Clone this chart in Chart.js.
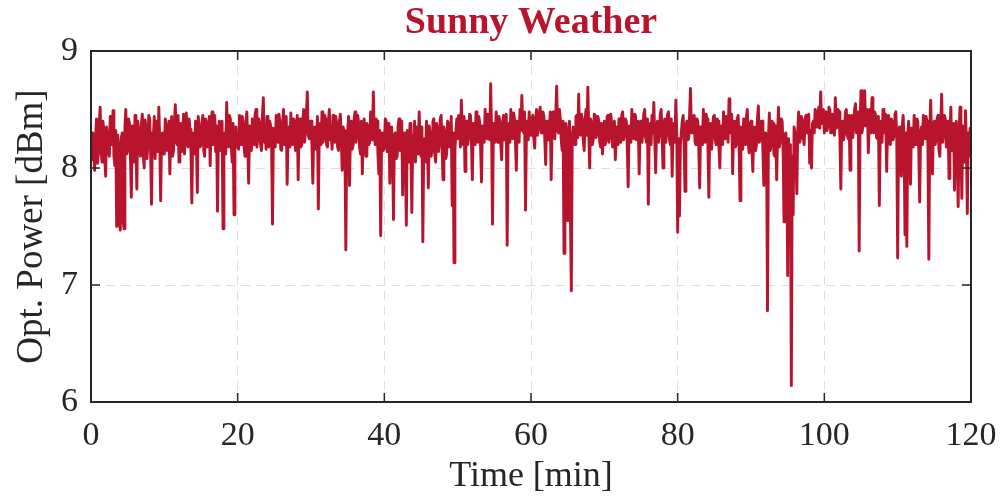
<!DOCTYPE html>
<html>
<head>
<meta charset="utf-8">
<script src="https://cdn.jsdelivr.net/npm/chart.js@4.4.1/dist/chart.umd.min.js"></script>
<style>
  html, body { margin: 0; padding: 0; background: #fff; }
  #wrap { width: 1005px; height: 502px; }
</style>
</head>
<body>
<div id="wrap"><canvas id="chart" width="1005" height="502"></canvas></div>
<script>
// Puissance optique relevée sur 120 min, un point toutes les 0.125 min (une ligne = 5 min)
const sampleStep = 0.125;
const power = [
  8.07,8.18, 8.30,8.12, 7.98,8.26, 8.42,8.04, 8.12,8.38, 8.52,8.15, 8.05,8.40, 8.33,8.08, 7.93,8.35, 8.28,8.14, 8.10,8.44, 8.36,8.20, 8.49,8.10, 8.02,8.32, 7.50,8.28, 8.20,7.52, 7.47,8.25, 8.30,7.55, 7.48,8.35, 8.50,8.12,
  8.15,8.42, 8.38,8.10, 7.75,8.36, 8.27,8.05, 8.45,8.20, 7.82,8.40, 8.32,8.15, 8.10,8.38, 8.46,8.12, 8.00,8.41, 8.34,8.08, 8.18,8.45, 8.42,8.16, 7.69,8.30, 8.25,8.44, 8.08,8.36, 8.40,8.14, 8.52,8.22, 7.72,8.28, 8.30,8.12,
  8.12,8.42, 8.36,8.15, 8.22,8.40, 7.95,8.30, 8.44,8.10, 8.15,8.38, 8.54,8.22, 8.20,8.45, 8.05,8.32, 8.38,8.14, 8.26,8.46, 8.12,8.35, 8.47,8.20, 8.18,8.42, 8.33,8.16, 7.70,8.30, 8.28,8.12, 8.40,8.22, 7.79,8.44, 8.35,8.18,
  8.20,8.38, 8.45,8.15, 8.10,8.42, 8.38,8.18, 8.25,8.44, 8.02,8.35, 8.48,8.20, 8.30,8.45, 8.14,8.36, 7.63,8.28, 8.40,8.15, 8.22,8.40, 7.48,8.26, 8.30,8.12, 8.56,8.28, 8.18,8.45, 8.42,8.20, 8.05,8.38, 7.60,8.30, 8.35,8.18,
  8.28,8.16, 8.45,8.22, 8.20,8.44, 8.37,8.18, 8.10,8.40, 8.48,8.22, 7.87,8.36, 8.32,8.15, 8.42,8.25, 8.20,8.46, 8.50,8.18, 8.26,8.42, 8.38,8.20, 8.15,8.44, 8.60,8.22, 8.30,8.16, 8.44,8.28, 8.18,8.40, 8.36,8.20, 7.52,8.34,
  8.30,8.18, 8.45,8.24, 8.22,8.46, 8.40,8.16, 8.15,8.38, 8.50,8.20, 8.28,8.44, 7.86,8.30, 8.35,8.18, 8.47,8.26, 8.20,8.42, 8.40,8.15, 8.30,8.45, 7.90,8.34, 8.42,8.18, 8.20,8.40, 8.50,8.22, 8.32,8.46, 8.65,8.28, 8.25,8.40,
  8.40,8.20, 7.87,8.32, 8.35,8.16, 8.20,8.44, 7.65,8.30, 8.38,8.20, 8.48,8.22, 8.25,8.45, 8.42,8.20, 8.18,8.40, 8.50,8.24, 8.30,8.16, 8.45,8.28, 8.22,8.44, 8.38,8.18, 8.15,8.40, 8.46,8.26, 7.98,8.35, 8.32,8.18, 7.30,8.28,
  8.30,8.44, 7.85,8.28, 8.40,8.16, 8.20,8.42, 8.48,8.22, 8.28,8.45, 8.38,8.18, 8.12,8.40, 7.95,8.26, 8.42,8.15, 8.10,8.38, 8.35,8.20, 8.22,8.48, 8.45,8.24, 8.65,8.30, 8.20,8.42, 8.40,8.12, 7.95,8.32, 7.42,8.25, 8.30,8.15,
  8.18,8.42, 8.40,8.14, 8.25,8.38, 7.87,8.30, 8.35,8.12, 7.56,8.28, 8.30,8.08, 8.10,8.36, 8.42,8.15, 8.20,8.40, 7.77,8.24, 8.30,8.10, 7.51,8.32, 8.25,8.05, 8.38,8.16, 7.62,8.28, 8.20,8.40, 8.05,8.30, 8.35,8.12, 8.48,8.20,
  8.10,8.35, 7.37,8.20, 8.25,8.05, 8.40,8.18, 7.83,8.36, 8.30,8.10, 8.15,8.40, 8.42,8.12, 8.05,8.38, 8.33,8.14, 8.20,8.42, 8.45,8.16, 7.90,8.35, 8.30,8.08, 8.12,8.40, 8.38,8.18, 8.22,8.44, 7.68,8.30, 7.19,8.15, 8.30,8.42,
  8.25,8.45, 8.42,8.18, 8.58,8.30, 8.20,8.44, 7.97,8.32, 8.40,8.20, 8.28,8.46, 8.45,8.22, 7.90,8.38, 8.35,8.20, 8.48,8.26, 8.22,8.44, 8.40,8.18, 7.88,8.36, 8.30,8.22, 8.50,8.28, 8.25,8.46, 8.44,8.24, 8.72,8.30, 7.52,8.38,
  8.35,8.22, 8.48,8.28, 8.22,8.44, 8.40,8.20, 8.07,8.38, 8.45,8.24, 8.30,8.46, 7.34,8.32, 8.38,8.22, 8.50,8.30, 8.25,8.47, 8.42,8.24, 7.98,8.40, 8.36,8.22, 8.50,8.32, 8.62,8.35, 8.30,8.48, 7.64,8.30, 8.40,8.24, 8.48,8.30,
  8.28,8.42, 8.45,8.26, 8.17,8.40, 8.50,8.28, 8.35,8.46, 8.52,8.30, 8.30,8.48, 8.45,8.26, 8.03,8.40, 8.40,8.24, 8.32,8.48, 7.90,8.34, 8.48,8.28, 8.25,8.46, 8.70,8.32, 8.30,8.50, 8.42,8.24, 8.15,8.40, 7.27,8.30, 8.38,8.22,
  7.55,8.30, 8.40,7.60, 6.95,8.28, 8.35,8.22, 8.20,8.44, 8.45,8.26, 8.63,8.30, 8.28,8.46, 8.42,8.24, 8.15,8.40, 8.50,8.28, 8.69,8.32, 8.00,8.42, 8.38,8.20, 8.25,8.46, 8.45,8.26, 8.30,8.44, 8.40,8.22, 8.18,8.38, 8.12,8.30,
  8.40,8.20, 8.25,8.44, 8.45,8.22, 8.30,8.46, 8.38,8.18, 8.20,8.40, 8.07,8.30, 8.35,8.20, 8.42,8.28, 8.22,8.45, 8.48,8.24, 8.30,8.42, 8.40,8.20, 7.84,8.36, 8.32,8.22, 8.50,8.28, 8.25,8.46, 8.45,8.24, 8.30,8.40, 7.95,8.35,
  8.40,8.22, 8.30,8.46, 8.50,8.26, 8.22,8.42, 7.69,8.30, 8.38,8.20, 8.45,8.30, 8.56,8.24, 7.96,8.35, 8.40,8.22, 8.28,8.46, 8.50,8.28, 8.00,8.38, 8.42,8.22, 8.30,8.46, 8.48,8.25, 8.20,8.42, 7.93,8.34, 8.38,8.22, 8.58,8.30,
  7.45,8.25, 7.59,8.20, 8.30,8.40, 8.45,8.22, 7.80,8.36, 8.40,8.24, 8.25,8.46, 8.68,8.30, 8.30,8.44, 8.45,8.22, 8.20,8.42, 8.40,8.18, 7.83,8.35, 8.35,8.20, 8.50,8.30, 8.22,8.46, 8.42,8.20, 7.75,8.32, 8.38,8.16, 8.30,8.44,
  8.45,8.24, 8.20,8.42, 8.40,8.18, 8.00,8.36, 8.35,8.20, 8.48,8.26, 8.25,8.44, 8.42,8.22, 8.59,8.30, 8.30,8.46, 7.95,8.34, 8.40,8.18, 8.20,8.42, 8.45,8.20, 7.72,8.35, 8.30,8.16, 8.42,8.28, 8.20,8.44, 8.50,8.22, 8.13,8.38,
  8.40,8.18, 7.97,8.32, 8.35,8.15, 8.20,8.42, 8.53,8.22, 8.25,8.40, 8.40,8.14, 7.85,8.30, 8.30,8.18, 6.78,8.25, 8.47,8.15, 8.20,8.40, 8.38,8.12, 8.10,8.36, 7.90,8.28, 8.52,8.18, 8.25,8.42, 8.40,8.16, 7.54,8.28, 8.30,8.10,
  7.08,8.25, 7.50,8.20, 6.14,8.10, 7.60,8.35, 8.30,8.15, 7.78,8.32, 8.48,8.22, 8.25,8.44, 8.40,8.26, 8.20,8.42, 8.45,8.30, 8.30,8.46, 8.04,8.32, 8.00,8.38, 8.40,8.30, 8.50,8.36, 8.35,8.48, 8.52,8.34, 8.65,8.38, 8.40,8.50,
  8.30,8.46, 8.48,8.32, 8.38,8.52, 8.50,8.30, 8.30,8.46, 8.45,8.28, 8.60,8.34, 8.35,8.50, 8.48,8.26, 7.82,8.38, 8.40,8.24, 8.30,8.48, 8.50,8.28, 8.25,8.45, 7.98,8.36, 8.45,8.26, 8.35,8.50, 8.55,8.30, 8.30,8.48, 7.29,8.40,
  8.66,8.30, 8.35,8.52, 8.66,8.36, 8.40,8.50, 8.13,8.40, 8.50,8.30, 8.60,8.38, 8.30,8.48, 8.45,8.26, 8.25,8.44, 7.68,8.32, 8.40,8.22, 8.50,8.30, 8.30,8.46, 7.97,8.34, 8.45,8.22, 8.20,8.42, 8.40,8.24, 8.28,8.46, 8.48,8.26,
  7.23,8.30, 8.35,8.18, 7.93,8.36, 8.45,8.22, 7.43,8.30, 7.33,8.28, 8.40,8.20, 7.86,8.34, 8.30,8.18, 8.45,8.24, 8.20,8.42, 8.40,8.16, 7.71,8.30, 8.35,8.20, 8.45,8.26, 8.25,8.44, 8.40,8.20, 7.22,8.32, 8.58,8.24, 7.95,8.38,
  8.40,8.20, 8.25,8.42, 8.45,8.16, 8.10,8.38, 8.63,8.22, 8.30,8.45, 8.42,8.18, 8.20,8.40, 7.91,8.30, 8.52,8.15, 8.15,8.38, 7.81,8.28, 8.40,8.12, 7.67,8.30, 8.52,8.20, 7.74,8.36, 8.30,8.05, 8.49,8.22, 7.61,8.30, 8.10,8.34,
  8.25
];
const times = power.map((_, i) => i * sampleStep);

const xTicks = [0, 20, 40, 60, 80, 100, 120];
const yTicks = [6, 7, 8, 9];

const rouge = '#B8142D';
const encre = '#262626';
const police = '"Liberation Serif", "DejaVu Serif", serif';

// Cadre et graduations vers l'intérieur (style MATLAB)
const cadre = {
    id: 'cadre',
    afterDraw(chart) {
        const ctx = chart.ctx;
        const a = chart.chartArea;
        const sx = chart.scales.x;
        const sy = chart.scales.y;
        const len = 9;
        ctx.save();
        ctx.setLineDash([]);
        ctx.strokeStyle = encre;
        ctx.lineWidth = 1.5;
        ctx.beginPath();
        xTicks.forEach(v => {
            const px = sx.getPixelForValue(v);
            ctx.moveTo(px, a.bottom); ctx.lineTo(px, a.bottom - len);
            ctx.moveTo(px, a.top); ctx.lineTo(px, a.top + len);
        });
        yTicks.forEach(v => {
            const py = sy.getPixelForValue(v);
            ctx.moveTo(a.left, py); ctx.lineTo(a.left + len, py);
            ctx.moveTo(a.right, py); ctx.lineTo(a.right - len, py);
        });
        ctx.stroke();
        ctx.lineWidth = 2;
        ctx.strokeRect(a.left, a.top, a.right - a.left, a.bottom - a.top);
        ctx.restore();
    }
};

const ctx = document.getElementById('chart').getContext('2d');
const chart = new Chart(ctx, {
    type: 'line',
    data: {
        datasets: [{
            data: times.map((t, i) => ({ x: t, y: power[i] })),
            borderColor: rouge,
            borderWidth: 2.9,
            pointRadius: 0,
            tension: 0,
            borderJoinStyle: 'round',
            borderCapStyle: 'round'
        }]
    },
    options: {
        responsive: false,
        animation: false,
        layout: { padding: { left: 0, right: 34, top: 0, bottom: 0 } },
        plugins: {
            legend: { display: false },
            tooltip: { enabled: false },
            title: {
                display: true,
                text: 'Sunny Weather',
                color: rouge,
                fullSize: false,
                font: { family: police, size: 38, weight: 'bold' },
                padding: { top: 0, bottom: 5.4 }
            }
        },
        scales: {
            x: {
                type: 'linear',
                min: 0,
                max: 120,
                afterBuildTicks(s) { s.ticks = xTicks.map(v => ({ value: v })); },
                afterFit(s) { s.height = 100; s.paddingLeft = 0; s.paddingRight = 0; },
                ticks: { color: encre, padding: 14, maxRotation: 0, font: { family: police, size: 34 } },
                grid: { color: '#dedede', lineWidth: 1, drawTicks: false },
                border: { display: false, dash: [9, 6] },
                title: {
                    display: true,
                    text: 'Time [min]',
                    color: encre,
                    font: { family: police, size: 36 },
                    padding: { top: 0, bottom: 3.4 }
                }
            },
            y: {
                min: 6,
                max: 9,
                afterBuildTicks(s) { s.ticks = yTicks.map(v => ({ value: v })); },
                afterFit(s) { s.width = 91; s.paddingTop = 0; s.paddingBottom = 0; },
                ticks: { color: encre, padding: 13, font: { family: police, size: 34 } },
                grid: { color: '#dedede', lineWidth: 1, drawTicks: false },
                border: { display: false, dash: [9, 6] },
                title: {
                    display: true,
                    text: 'Opt. Power [dBm]',
                    color: encre,
                    font: { family: police, size: 37 },
                    padding: { top: 10, bottom: 0 }
                }
            }
        }
    },
    plugins: [cadre]
});
</script>
</body>
</html>
